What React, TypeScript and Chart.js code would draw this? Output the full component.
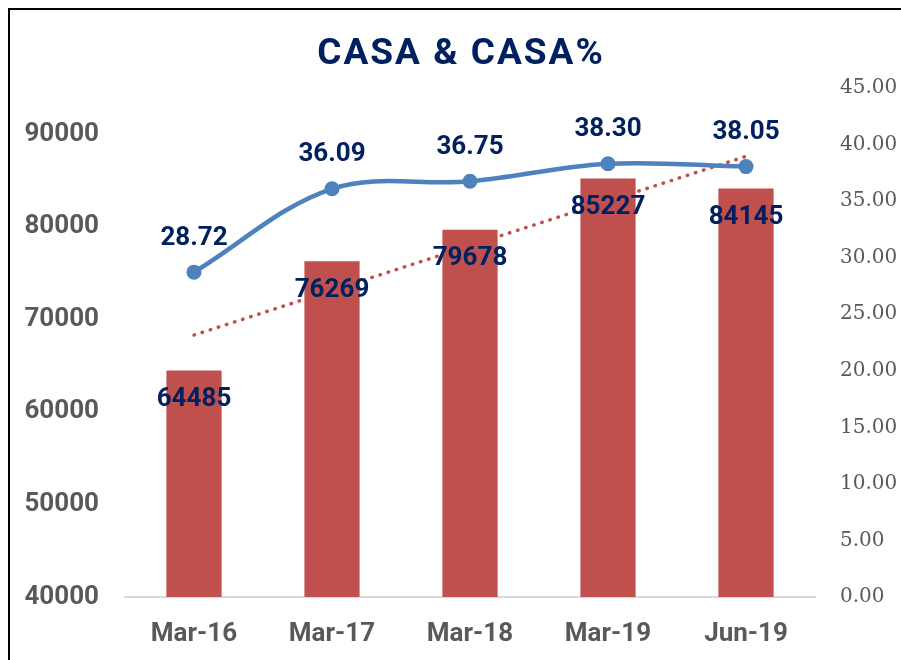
import React, { useEffect, useRef } from "react";
import { Chart, registerables } from "chart.js";

Chart.register(...registerables);

const categories = ["Mar-16", "Mar-17", "Mar-18", "Mar-19", "Jun-19"];
const casaValues = [64485, 76269, 79678, 85227, 84145];
const casaPercent = [28.72, 36.09, 36.75, 38.3, 38.05];
const leftTickValues = [40000, 50000, 60000, 70000, 80000, 90000];
const rightTickValues = [0, 5, 10, 15, 20, 25, 30, 35, 40, 45];
const titleText = "CASA & CASA%";

// Linear (least squares) trendline of the CASA bars, as Excel draws it
function linearTrend(vals: number[]): number[] {
  const n = vals.length;
  const xs = vals.map((_, i) => i + 1);
  const mx = xs.reduce((a, b) => a + b, 0) / n;
  const my = vals.reduce((a, b) => a + b, 0) / n;
  let num = 0;
  let den = 0;
  for (let i = 0; i < n; i++) {
    num += (xs[i] - mx) * (vals[i] - my);
    den += (xs[i] - mx) * (xs[i] - mx);
  }
  const slope = num / den;
  return xs.map((x) => my + slope * (x - mx));
}
const trendValues = linearTrend(casaValues);

const NAVY = "#002060";
const GREY = "#595959";
const FONT = "Roboto";

const labelPlugin = {
  id: "valueLabels",
  afterDatasetsDraw(chart: any) {
    const ctx = chart.ctx;
    ctx.save();
    ctx.fillStyle = NAVY;
    ctx.font = `bold 26px ${FONT}`;
    ctx.textAlign = "center";
    ctx.textBaseline = "middle";
    const barMeta = chart.getDatasetMeta(2);
    barMeta.data.forEach((el: any, i: number) => {
      ctx.fillText(String(casaValues[i]), el.x, el.y + 29);
    });
    const lineMeta = chart.getDatasetMeta(0);
    lineMeta.data.forEach((el: any, i: number) => {
      ctx.fillText(casaPercent[i].toFixed(2), el.x, el.y - 34);
    });
    ctx.font = `bold 37px ${FONT}`;
    try {
      (ctx as any).letterSpacing = "2px";
    } catch (e) {}
    ctx.textBaseline = "alphabetic";
    ctx.fillText(titleText, 451, 54);
    ctx.restore();
  },
};

export default function App() {
  const ref = useRef<HTMLCanvasElement | null>(null);

  useEffect(() => {
    if (!ref.current) return;
    const chart = new Chart(ref.current, {
      type: "bar",
      data: {
        labels: categories,
        datasets: [
          {
            type: "line",
            label: "CASA%",
            data: casaPercent,
            yAxisID: "y1",
            borderColor: "#4F81BD",
            backgroundColor: "#4F81BD",
            borderWidth: 4.5,
            pointRadius: 7.5,
            pointBackgroundColor: "#4F81BD",
            pointBorderColor: "#4F81BD",
            pointBorderWidth: 0,
            tension: 0.35,
            order: 0,
          } as any,
          {
            type: "line",
            label: "Trend",
            data: trendValues,
            yAxisID: "y",
            borderColor: "#C0504D",
            borderWidth: 3.5,
            borderDash: [0.5, 8],
            borderCapStyle: "round",
            pointRadius: 0,
            tension: 0,
            fill: false,
            order: 1,
          } as any,
          {
            type: "bar",
            label: "CASA",
            data: casaValues,
            yAxisID: "y",
            backgroundColor: "#C0504D",
            borderWidth: 0,
            categoryPercentage: 1,
            barPercentage: 0.4,
            order: 2,
          } as any,
        ],
      },
      options: {
        responsive: false,
        maintainAspectRatio: false,
        animation: false,
        layout: { padding: { top: 78, left: 0, right: 0, bottom: 0 } },
        plugins: {
          legend: { display: false },
          title: { display: false },
          tooltip: { enabled: false },
        },
        scales: {
          x: {
            grid: { display: false, drawTicks: false },
            border: { display: true, color: "#D9D9D9", width: 2 },
            ticks: {
              color: GREY,
              font: { family: FONT, size: 26, weight: "bold" },
              padding: 22,
            },
            afterFit(scale: any) {
              scale.height = 63;
            },
          },
          y: {
            position: "left",
            min: 40000,
            max: 95000,
            grid: { display: false, drawTicks: false },
            border: { display: false },
            afterBuildTicks(scale: any) {
              scale.ticks = leftTickValues.map((v) => ({ value: v }));
            },
            ticks: {
              color: GREY,
              font: { family: FONT, size: 26, weight: "bold" },
              padding: 26,
              callback: (v: any) => String(v),
            },
            afterFit(scale: any) {
              scale.width = 115;
            },
          },
          y1: {
            position: "right",
            min: 0,
            max: 45,
            grid: { display: false, drawTicks: false },
            border: { display: false },
            afterBuildTicks(scale: any) {
              scale.ticks = rightTickValues.map((v) => ({ value: v }));
            },
            ticks: {
              color: GREY,
              font: { family: "DejaVu Serif", size: 20, weight: "normal" },
              padding: 25,
              callback: (v: any) => Number(v).toFixed(2),
            },
            afterFit(scale: any) {
              scale.width = 86;
            },
          },
        },
      },
      plugins: [labelPlugin],
    });
    return () => chart.destroy();
  }, []);

  return (
    <div
      style={{
        position: "fixed",
        left: 8,
        top: 8,
        width: 893,
        height: 652,
        boxSizing: "border-box",
        borderTop: "2px solid #000",
        borderLeft: "2px solid #000",
        background: "#fff",
        overflow: "hidden",
      }}
    >
      <canvas ref={ref} width={891} height={650} style={{ display: "block", width: 891, height: 650 }} />
    </div>
  );
}
